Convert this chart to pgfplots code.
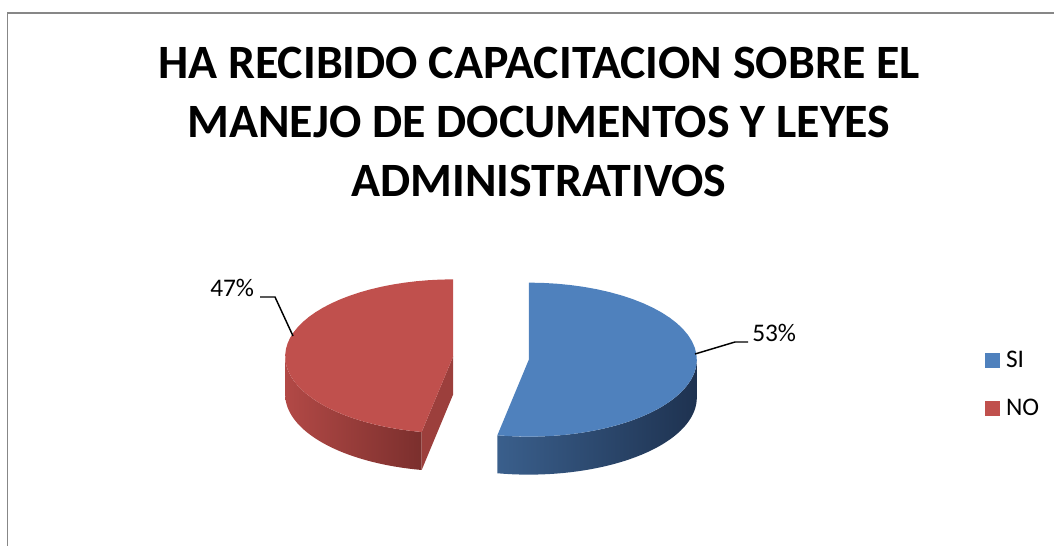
\documentclass[border=0pt]{standalone}
\usepackage{pgfplots}
\pgfplotsset{compat=1.18}
\usepackage{fontspec}
\setmainfont{Carlito}
\definecolor{blueTop}{HTML}{4F81BD}
\definecolor{redTop}{HTML}{C0504D}
\definecolor{blueSideL}{HTML}{3A5F8C}
\definecolor{blueSideR}{HTML}{1E3250}
\definecolor{redSideL}{HTML}{B24946}
\definecolor{redSideR}{HTML}{7B2F2D}
\definecolor{redFace}{HTML}{9C3F3C}
\definecolor{frameGray}{HTML}{878787}
\begin{document}
\begin{tikzpicture}
% data (percent)
\def\vSI{53}\def\vNO{47}
\pgfmathsetmacro\aS{90}
\pgfmathsetmacro\aM{\aS-3.6*\vSI}
\pgfmathsetmacro\aE{\aM-3.6*\vNO}
% geometry in pixel units
\def\cx{491}\def\cy{-358}\def\radx{168}\def\rady{77}\def\ex{38}\def\dd{38}
\pgfmathsetmacro\bmid{(\aS+\aM)/2}
\pgfmathsetmacro\rmid{(\aM+\aE)/2}
\pgfmathsetmacro\bx{\cx+\ex*cos(\bmid)}
\pgfmathsetmacro\by{\cy+\ex*\rady/\radx*sin(\bmid)}
\pgfmathsetmacro\redx{\cx+\ex*cos(\rmid)}
\pgfmathsetmacro\redy{\cy+\ex*\rady/\radx*sin(\rmid)}
\pgfmathsetmacro\pX{\redx+\radx*cos(\aM)}
\pgfmathsetmacro\pY{\redy+\rady*sin(\aM)}
\pgfmathsetmacro\pYd{\pY-\dd}
\pgfmathsetmacro\redyd{\redy-\dd}
\useasboundingbox (0,0) rectangle (790.5pt,409.5pt);
\begin{axis}[at={(0pt,0pt)}, anchor=south west, scale only axis,
  width=790.5pt, height=409.5pt,
  xmin=0, xmax=1054, ymin=-546, ymax=0,
  hide axis, clip=false,
  legend style={at={(axis cs:985,-352)}, anchor=north west, draw=none, fill=none,
    inner sep=0pt, outer sep=0pt, font=\fontsize{19}{23}\selectfont,
    row sep=24pt, column sep=4.5pt,
    nodes={inner sep=0pt, text height=12pt, text depth=0pt, anchor=base west}},
  legend cell align=left,
  legend image code/.code={\fill[#1] (0pt,0pt) rectangle (11.25pt,11.25pt);},
]
% ---- red slice (NO) ----
\addplot[forget plot, draw=none, left color=redSideL, right color=redSideR,
  samples at={0,...,81}, variable=\t]
  ({\redx+\radx*cos(ifthenelse(\t<=40, -180+\t/40*(\aM+180), \aM-(\t-41)/40*(\aM+180)))},
   {\redy+\rady*sin(ifthenelse(\t<=40, -180+\t/40*(\aM+180), \aM-(\t-41)/40*(\aM+180))) - (\t>40)*\dd});
\addplot[forget plot, draw=none, fill=redFace]
  coordinates {(\redx,\redy) (\pX,\pY) (\pX,\pYd) (\redx,\redyd)};
\addplot[forget plot, draw=none, fill=redTop, samples at={0,...,41}, variable=\t]
  ({ifthenelse(\t<=40, \redx+\radx*cos(\aM+\t/40*(\aE-\aM)), \redx)},
   {ifthenelse(\t<=40, \redy+\rady*sin(\aM+\t/40*(\aE-\aM)), \redy)});
% ---- blue slice (SI) ----
\addplot[forget plot, draw=none, left color=blueSideL, right color=blueSideR,
  samples at={0,...,81}, variable=\t]
  ({\bx+\radx*cos(ifthenelse(\t<=40, \aM+\t/40*(0-\aM), 0-(\t-41)/40*(0-\aM)))},
   {\by+\rady*sin(ifthenelse(\t<=40, \aM+\t/40*(0-\aM), 0-(\t-41)/40*(0-\aM))) - (\t>40)*\dd});
\addplot[forget plot, draw=none, fill=blueTop, samples at={0,...,41}, variable=\t]
  ({ifthenelse(\t<=40, \bx+\radx*cos(\aS+\t/40*(\aM-\aS)), \bx)},
   {ifthenelse(\t<=40, \by+\rady*sin(\aS+\t/40*(\aM-\aS)), \by)});
% ---- leader lines ----
\addplot[forget plot, black, line width=1.1pt] coordinates {(260,-297) (275,-297) (293,-336)};
\addplot[forget plot, black, line width=1.1pt] coordinates {(695,-354) (735,-342) (748,-342)};
% ---- legend ----
\addlegendimage{fill=blueTop, draw=none}
\addlegendentry{SI}
\addlegendimage{fill=redTop, draw=none}
\addlegendentry{NO}
% ---- texts ----
\node[anchor=base west, inner sep=0pt, font=\fontsize{19}{23}\selectfont] at (axis cs:210,-297) {47\%};
\node[anchor=base west, inner sep=0pt, font=\fontsize{19}{23}\selectfont] at (axis cs:752,-342) {53\%};
\node[anchor=base, inner sep=0pt, font=\fontsize{35.9}{40}\selectfont\bfseries] at (axis cs:539,-79) {HA RECIBIDO CAPACITACION SOBRE EL};
\node[anchor=base, inner sep=0pt, font=\fontsize{35.9}{40}\selectfont\bfseries] at (axis cs:539,-137.5) {MANEJO DE DOCUMENTOS Y LEYES};
\node[anchor=base, inner sep=0pt, font=\fontsize{35.9}{40}\selectfont\bfseries] at (axis cs:539,-197) {ADMINISTRATIVOS};
% ---- frame ----
\draw[frameGray, line width=1.2pt] (axis cs:7.5,-600) -- (axis cs:7.5,-13) -- (axis cs:1100,-13);
\end{axis}
\end{tikzpicture}
\end{document}
